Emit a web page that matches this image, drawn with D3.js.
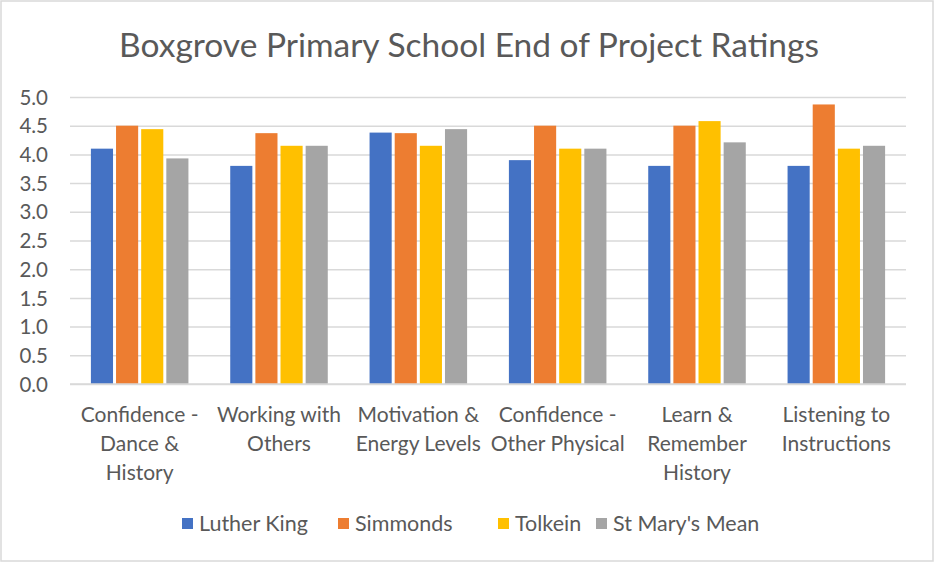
<!DOCTYPE html>
<html>
<head>
<meta charset="utf-8">
<script src="https://cdn.jsdelivr.net/npm/d3@7/dist/d3.min.js"></script>
<style>
  html, body { margin: 0; padding: 0; background: #fff; }
  svg { display: block; }
  text { font-family: "Lato", "Liberation Sans", sans-serif; fill: #595959; }
</style>
</head>
<body>
<svg id="chart" width="934" height="562"></svg>
<script>
const title = "Boxgrove Primary School End of Project Ratings";
const categories = [
  "Confidence - Dance & History",
  "Working with Others",
  "Motivation & Energy Levels",
  "Confidence - Other Physical",
  "Learn & Remember History",
  "Listening to Instructions"
];
const categoryLines = [
  ["Confidence -", "Dance &", "History"],
  ["Working with", "Others"],
  ["Motivation &", "Energy Levels"],
  ["Confidence -", "Other Physical"],
  ["Learn &", "Remember", "History"],
  ["Listening to", "Instructions"]
];
const seriesNames = ["Luther King", "Simmonds", "Tolkein", "St Mary's Mean"];
const lutherKing = [4.1, 3.8, 4.38, 3.9, 3.8, 3.8];
const simmonds   = [4.5, 4.37, 4.37, 4.5, 4.5, 4.87];
const tolkein    = [4.44, 4.15, 4.15, 4.1, 4.58, 4.1];
const stMarys    = [3.93, 4.15, 4.44, 4.1, 4.21, 4.15];
const seriesValues = [lutherKing, simmonds, tolkein, stMarys];
const colors = ["#4472C4", "#ED7D31", "#FFC000", "#A5A5A5"];
const yTicks = [0, 0.5, 1, 1.5, 2, 2.5, 3, 3.5, 4, 4.5, 5];

const W = 934, H = 562;
const svg = d3.select("#chart");
const plot = { left: 70, right: 906, top: 97, bottom: 384 };

// chart border
svg.append("rect").attr("x", 1).attr("y", 1).attr("width", W - 2).attr("height", H - 2)
  .attr("fill", "#fff").attr("stroke", "#d9d9d9").attr("stroke-width", 1.5);

// title
svg.append("text").attr("x", 469).attr("y", 57).attr("text-anchor", "middle")
  .style("font-size", "33.5px").text(title);

const y = d3.scaleLinear().domain([0, 5]).range([plot.bottom, plot.top]);
const x0 = d3.scaleBand().domain(categories).range([plot.left, plot.right])
  .paddingInner(0.3).paddingOuter(0.15);
const x1 = d3.scaleBand().domain(seriesNames).range([0, x0.bandwidth()])
  .paddingInner(0.12).paddingOuter(0);

// gridlines
const yAxis = d3.axisLeft(y).tickValues(yTicks).tickFormat(d3.format(".1f"))
  .tickSize(-(plot.right - plot.left)).tickPadding(22);
const gy = svg.append("g").attr("transform", `translate(${plot.left},0)`).call(yAxis);
gy.select(".domain").remove();
gy.selectAll(".tick line").attr("stroke", "#d9d9d9").attr("stroke-width", 1.5);
gy.selectAll(".tick text").style("font-size", "20.5px").attr("fill", "#595959")
  .attr("dy", "0.35em");

// bars
const groups = svg.append("g").selectAll("g").data(categories).join("g")
  .attr("transform", d => `translate(${x0(d)},0)`);
groups.selectAll("rect")
  .data((c, i) => seriesNames.map((s, k) => ({ s, k, v: seriesValues[k][i] })))
  .join("rect")
  .attr("x", d => x1(d.s))
  .attr("width", x1.bandwidth())
  .attr("y", d => y(d.v))
  .attr("height", d => y(0) - y(d.v))
  .attr("fill", d => colors[d.k]);

// x axis line
svg.append("line").attr("x1", plot.left).attr("x2", plot.right)
  .attr("y1", y(0)).attr("y2", y(0)).attr("stroke", "#d9d9d9").attr("stroke-width", 1.5);

// category labels
const xl = svg.append("g");
categories.forEach((c, i) => {
  const cx = x0(c) + x0.bandwidth() / 2;
  const t = xl.append("text").attr("text-anchor", "middle").style("font-size", "21px");
  categoryLines[i].forEach((line, j) => {
    t.append("tspan").attr("x", cx).attr("y", 422 + j * 29).text(line);
  });
});

// legend
const legendX = [182, 338, 498, 596];
const lg = svg.append("g");
seriesNames.forEach((s, k) => {
  lg.append("rect").attr("x", legendX[k]).attr("y", 518).attr("width", 11).attr("height", 11)
    .attr("fill", colors[k]);
  lg.append("text").attr("x", legendX[k] + 17).attr("y", 531).style("font-size", "21.5px").text(s);
});
</script>
</body>
</html>
